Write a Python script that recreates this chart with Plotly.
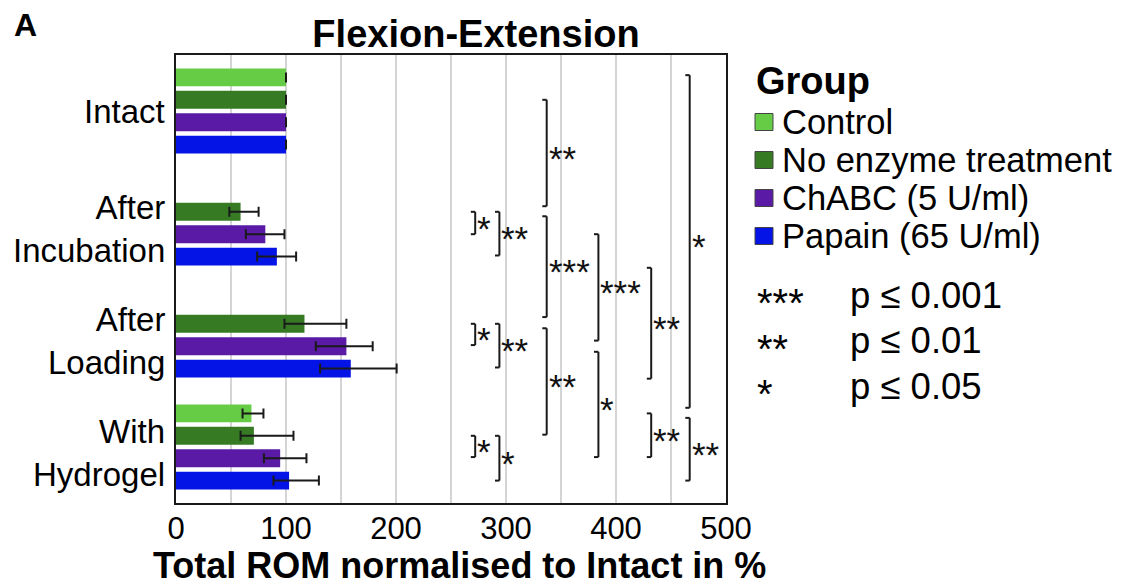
import plotly.graph_objects as go

# ---------------- data ----------------
categories = ["Intact", "After<br>Incubation", "After<br>Loading", "With<br>Hydrogel"]
series_names = ["Control", "No enzyme treatment", "ChABC (5 U/ml)", "Papain (65 U/ml)"]
series_colors = ["#66CC46", "#367B24", "#5B1AA6", "#0514E6"]

control = [100, None, None, 68.6]
control_minus = [0, 0, 0, 8.1]
control_plus = [0, 0, 0, 10.9]

no_enzyme = [100, 58.7, 116.8, 70.8]
no_enzyme_minus = [0, 10.2, 18.2, 12.1]
no_enzyme_plus = [0, 16.4, 38.1, 36.0]

chabc = [100, 81.2, 154.9, 94.7]
chabc_minus = [0, 17.7, 27.8, 14.8]
chabc_plus = [0, 17.4, 23.9, 23.9]

papain = [100, 91.7, 158.9, 102.8]
papain_minus = [0, 17.9, 27.9, 14.2]
papain_plus = [0, 17.5, 41.7, 27.1]

x_ticks = [0, 100, 200, 300, 400, 500]

# significance brackets: (x position, y start, y end, label) in axis units
brackets = [
    (337, -0.10, 0.85, "**"),
    (272, 0.90, 1.10, "*"),
    (294, 0.90, 1.29, "**"),
    (337, 0.94, 1.84, "***"),
    (384, 1.10, 2.05, "***"),
    (432, 1.40, 2.39, "**"),
    (467, -0.32, 2.65, "*"),
    (272, 1.90, 2.09, "*"),
    (294, 1.90, 2.29, "**"),
    (337, 1.94, 2.89, "**"),
    (384, 2.15, 3.09, "*"),
    (272, 2.90, 3.09, "*"),
    (294, 2.90, 3.30, "*"),
    (432, 2.70, 3.09, "**"),
    (467, 2.74, 3.30, "**"),
]

p_legend = [("***", "p ≤ 0.001"), ("**", "p ≤ 0.01"), ("*", "p ≤ 0.05")]

# ---------------- layout geometry ----------------
OFF = 8  # page body margin in the browser
W, H = 1135 - OFF, 586 - OFF
# plot area in page pixels
L, R, T, B = 176, 726, 55, 503
FONT = "Liberation Sans, Arial, sans-serif"


def px_to_paper(px, py):
    return (px - L) / (R - L), (B - py) / (B - T)


fig = go.Figure()
values = [control, no_enzyme, chabc, papain]
minus = [control_minus, no_enzyme_minus, chabc_minus, papain_minus]
plus = [control_plus, no_enzyme_plus, chabc_plus, papain_plus]

for name, col, v, m, p in zip(series_names, series_colors, values, minus, plus):
    fig.add_trace(go.Bar(
        y=categories, x=v, orientation="h", name=name,
        marker=dict(color=col, line=dict(width=0)),
        error_x=dict(type="data", symmetric=False, array=p, arrayminus=m,
                     color="#1a1a1a", thickness=2, width=5),
        showlegend=False,
    ))

shapes = []
annotations = []

# category labels (y axis), placed as text beside each category
for i, cat in enumerate(categories):
    annotations.append(dict(x=0, y=i, xref="paper", yref="y", text=cat, align="right",
                            showarrow=False, xanchor="right", yanchor="middle", xshift=-9,
                            yshift=-6 if "<br>" in cat else 0,
                            font=dict(family=FONT, size=33, color="#000")))

TICK = 4  # bracket end tick length in data units
for x, y0, y1, lab in brackets:
    for (xa, ya, xb, yb) in [(x - TICK, y0, x, y0), (x, y0, x, y1), (x - TICK, y1, x, y1)]:
        shapes.append(dict(type="line", xref="x", yref="y", x0=xa, y0=ya, x1=xb, y1=yb,
                           line=dict(color="#1a1a1a", width=2)))
    annotations.append(dict(x=x, y=(y0 + y1) / 2, xref="x", yref="y", text=lab,
                            showarrow=False, xanchor="left", yanchor="middle", xshift=0,
                            yshift=-5, font=dict(family=FONT, size=35, color="#111")))

# manual legend
gx, gy = px_to_paper(754, 81)
annotations.append(dict(x=gx, y=gy, xref="paper", yref="paper", text="<b>Group</b>",
                        showarrow=False, xanchor="left", yanchor="middle",
                        font=dict(family=FONT, size=38, color="#000")))
for i, (name, col) in enumerate(zip(series_names, series_colors)):
    cy = 122 + 38 * i
    x0, y0 = px_to_paper(755, cy - 8.5)
    x1, y1 = px_to_paper(773, cy + 8.5)
    shapes.append(dict(type="rect", xref="paper", yref="paper", x0=x0, y0=y0, x1=x1, y1=y1,
                       fillcolor=col, line=dict(color="#444", width=1)))
    tx, ty = px_to_paper(780, cy)
    annotations.append(dict(x=tx, y=ty, xref="paper", yref="paper", text=name,
                            showarrow=False, xanchor="left", yanchor="middle",
                            font=dict(family=FONT, size=34.5, color="#000")))
for i, (stars, ptxt) in enumerate(p_legend):
    cy = 295 + 45.5 * i
    sx, sy = px_to_paper(755, cy)
    annotations.append(dict(x=sx, y=sy, xref="paper", yref="paper", text=stars,
                            showarrow=False, xanchor="left", yanchor="middle", yshift=-8,
                            font=dict(family=FONT, size=40, color="#000")))
    px_, py_ = px_to_paper(848, cy)
    annotations.append(dict(x=px_, y=py_, xref="paper", yref="paper", text=ptxt,
                            showarrow=False, xanchor="left", yanchor="middle",
                            font=dict(family=FONT, size=36.5, color="#000")))

# panel letter and axis title
ax_, ay_ = px_to_paper(12, 25)
annotations.append(dict(x=ax_, y=ay_, xref="paper", yref="paper", text="<b>A</b>",
                        showarrow=False, xanchor="left", yanchor="middle",
                        font=dict(family=FONT, size=32, color="#000")))
tx, ty = px_to_paper(459, 565)
annotations.append(dict(x=tx, y=ty, xref="paper", yref="paper",
                        text="<b>Total ROM normalised to Intact in %</b>",
                        showarrow=False, xanchor="center", yanchor="middle",
                        font=dict(family=FONT, size=36, color="#000")))

fig.update_layout(
    width=W, height=H,
    margin=dict(l=L - OFF, r=W - (R - OFF), t=T - OFF, b=H - (B - OFF), autoexpand=False),
    paper_bgcolor="white", plot_bgcolor="white",
    barmode="group", bargap=0.2, bargroupgap=0.2,
    title=dict(text="<b>Flexion-Extension</b>", x=(476 - L) / (R - L), xref="paper",
               xanchor="center", y=1 - (34 - OFF) / H, yanchor="middle",
               font=dict(family=FONT, size=38, color="#000")),
    shapes=shapes, annotations=annotations,
    showlegend=False,
)
fig.update_xaxes(
    range=[0, 500], tickvals=x_ticks, ticktext=[str(t) for t in x_ticks],
    showgrid=True, gridcolor="#d4d4d4", gridwidth=1.5,
    minor=dict(dtick=50, tick0=0, showgrid=True, gridcolor="#d4d4d4", gridwidth=1.5),
    showline=True, linecolor="#1a1a1a", linewidth=2, mirror=True,
    ticks="", ticklabelstandoff=-3, tickfont=dict(family=FONT, size=31, color="#000"),
    zeroline=False,
)
fig.update_yaxes(
    type="category", range=[3.5, -0.5], categoryorder="array", categoryarray=categories,
    showline=True, linecolor="#1a1a1a", linewidth=2, mirror=True,
    ticks="", showticklabels=False, showgrid=False,
)

fig.write_html("out.html")
